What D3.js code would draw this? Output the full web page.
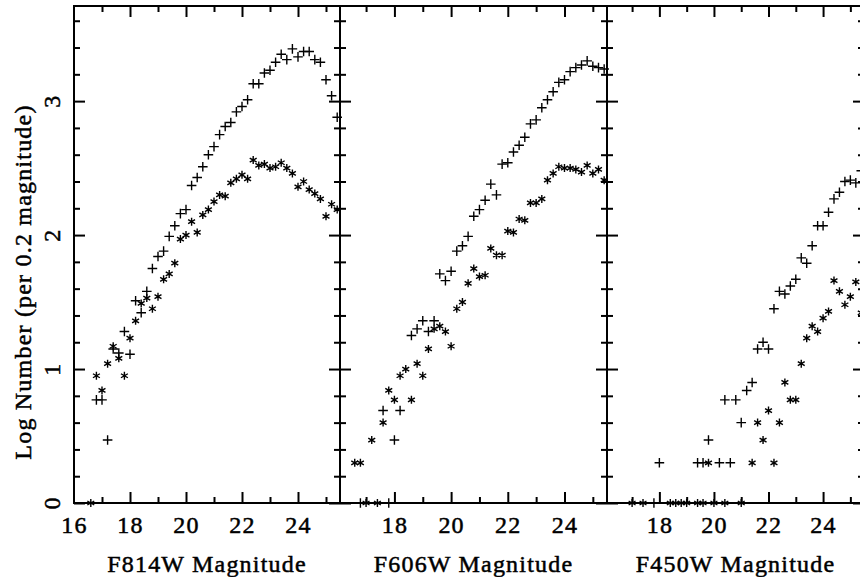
<!DOCTYPE html>
<html><head><meta charset="utf-8">
<script src="https://cdn.jsdelivr.net/npm/d3@7"></script>
<style>body{margin:0;background:#fff}svg{display:block}</style>
</head><body><svg id="c" width="860" height="577"></svg>
<script>
// ---- data (magnitude bin, log number per 0.2 mag) ----
const filters = ["F814W", "F606W", "F450W"];
const xTickLabelsFirst = [16, 18, 20, 22, 24];
const xTickLabelsOther = [18, 20, 22, 24];
const yTickLabels = [0, 1, 2, 3];
const yTitle = "Log Number (per 0.2 magnitude)";

const f814wPlus = [[16.8,0.77],[17.0,0.77],[17.2,0.47],[17.4,1.15],[17.6,1.12],[17.8,1.28],[18.0,1.11],[18.2,1.51],[18.4,1.42],[18.6,1.58],[18.8,1.75],[19.0,1.84],[19.2,1.88],[19.4,1.99],[19.6,2.07],[19.8,2.16],[20.0,2.19],[20.2,2.37],[20.4,2.43],[20.6,2.51],[20.8,2.60],[21.0,2.66],[21.2,2.75],[21.4,2.81],[21.6,2.84],[21.8,2.92],[22.0,2.96],[22.2,3.01],[22.4,3.13],[22.6,3.13],[22.8,3.21],[23.0,3.23],[23.2,3.29],[23.4,3.35],[23.6,3.31],[23.8,3.39],[24.0,3.33],[24.2,3.37],[24.4,3.37],[24.6,3.31],[24.8,3.29],[25.0,3.16],[25.2,3.04],[25.4,2.88]];
const f814wStar = [[16.6,0],[16.8,0.95],[17.0,0.84],[17.2,1.04],[17.4,1.17],[17.6,1.08],[17.8,0.95],[18.0,1.23],[18.2,1.36],[18.4,1.49],[18.6,1.53],[18.8,1.45],[19.0,1.54],[19.2,1.67],[19.4,1.71],[19.6,1.79],[19.8,1.97],[20.0,2.00],[20.2,2.10],[20.4,2.02],[20.6,2.15],[20.8,2.19],[21.0,2.25],[21.2,2.30],[21.4,2.29],[21.6,2.39],[21.8,2.42],[22.0,2.45],[22.2,2.42],[22.4,2.56],[22.6,2.52],[22.8,2.53],[23.0,2.50],[23.2,2.51],[23.4,2.54],[23.6,2.50],[23.8,2.46],[24.0,2.36],[24.2,2.40],[24.4,2.34],[24.6,2.31],[24.8,2.27],[25.0,2.14],[25.2,2.23],[25.4,2.19]];

const f606wPlus = [[16.8,0],[17.6,0.69],[17.8,0],[18.0,0.47],[18.2,0.69],[18.6,1.25],[18.8,1.30],[19.0,1.36],[19.2,1.28],[19.4,1.36],[19.6,1.71],[19.8,1.66],[20.0,1.73],[20.2,1.88],[20.4,1.92],[20.6,1.99],[20.8,2.14],[21.0,2.19],[21.2,2.26],[21.4,2.38],[21.6,2.30],[21.8,2.53],[22.0,2.54],[22.2,2.62],[22.4,2.67],[22.6,2.73],[22.8,2.83],[23.0,2.86],[23.2,2.95],[23.4,3.01],[23.6,3.07],[23.8,3.14],[24.0,3.16],[24.2,3.22],[24.4,3.25],[24.6,3.27],[24.8,3.30],[25.0,3.26],[25.2,3.25],[25.4,3.24]];
const f606wStar = [[16.6,0.30],[16.8,0.30],[17.0,0],[17.2,0.47],[17.4,0],[17.6,0.60],[17.8,0.84],[18.0,0.77],[18.2,0.95],[18.4,1.00],[18.6,0.77],[18.8,1.04],[19.0,0.95],[19.2,1.15],[19.4,1.30],[19.6,1.32],[19.8,1.28],[20.0,1.17],[20.2,1.45],[20.4,1.50],[20.6,1.64],[20.8,1.75],[21.0,1.69],[21.2,1.70],[21.4,1.90],[21.6,1.85],[21.8,1.85],[22.0,2.03],[22.2,2.02],[22.4,2.12],[22.6,2.11],[22.8,2.24],[23.0,2.24],[23.2,2.27],[23.4,2.41],[23.6,2.46],[23.8,2.51],[24.0,2.50],[24.2,2.50],[24.4,2.49],[24.6,2.47],[24.8,2.52],[25.0,2.46],[25.2,2.49],[25.4,2.41]];

const f450wPlus = [[17.8,0],[18.0,0.30],[19.4,0.30],[19.6,0.30],[19.8,0.47],[20.2,0.30],[20.4,0.77],[20.6,0.30],[20.8,0.77],[21.0,0.60],[21.2,0.84],[21.4,0.90],[21.6,1.15],[21.8,1.20],[22.0,1.15],[22.2,1.45],[22.4,1.58],[22.6,1.56],[22.8,1.62],[23.0,1.67],[23.2,1.83],[23.4,1.79],[23.6,1.92],[23.8,2.07],[24.0,2.07],[24.2,2.17],[24.4,2.27],[24.6,2.32],[24.8,2.40],[25.0,2.41],[25.2,2.39],[25.4,2.48]];
const f450wStar = [[17.0,0],[17.4,0],[18.4,0],[18.6,0],[18.8,0],[19.0,0],[19.4,0],[19.6,0],[19.8,0.30],[20.0,0],[20.4,0],[21.0,0],[21.4,0.30],[21.6,0.60],[21.8,0.47],[22.0,0.69],[22.2,0.30],[22.4,0.60],[22.6,0.90],[22.8,0.77],[23.0,0.77],[23.2,1.04],[23.4,1.23],[23.6,1.32],[23.8,1.28],[24.0,1.38],[24.2,1.43],[24.4,1.66],[24.6,1.58],[24.8,1.48],[25.0,1.54],[25.2,1.65],[25.4,1.42]];

// ---- layout ----
const plotTop = 6, plotBottom = 503;
const panels = [
  {name: filters[0], x0: 74,  x1: 340, dom: [16, 25.5],    labels: xTickLabelsFirst, plus: f814wPlus, star: f814wStar},
  {name: filters[1], x0: 340, x1: 607, dom: [16.08, 25.5], labels: xTickLabelsOther, plus: f606wPlus, star: f606wStar},
  {name: filters[2], x0: 607, x1: 864, dom: [16.08, 25.5], labels: xTickLabelsOther, plus: f450wPlus, star: f450wStar}
];
const y = d3.scaleLinear().domain([0, 3.71]).range([plotBottom, plotTop]);
const svg = d3.select("#c");
const FONT = '"Liberation Serif", "Times New Roman", serif';
const FS = 24;

const yMajor = [0, 1, 2, 3];
const yMinor = d3.range(0, 19).filter(i => i % 5 !== 0).map(i => +(i * 0.2).toFixed(1));

const plusPath = s => `M${-s},0H${s}M0,${-s}V${s}`;
const starPath = s => {
  const c = Math.cos(Math.PI / 6) * s, d = Math.sin(Math.PI / 6) * s;
  return `M0,${-s}V${s}M${-c},${-d}L${c},${d}M${-c},${d}L${c},${-d}`;
};

function styleText(sel) {
  sel.attr("font-family", FONT).attr("font-size", FS).attr("fill", "#000")
     .attr("letter-spacing", "1.2px")
     .attr("stroke", "#000").attr("stroke-width", 0.5);
}
function styleAxis(g) {
  g.select(".domain").remove();
  g.selectAll("line").attr("stroke", "#000").attr("stroke-width", 2);
  g.selectAll("text").call(styleText);
}

panels.forEach(p => {
  const x = d3.scaleLinear().domain(p.dom).range([p.x0, p.x1]);
  const xMajor = d3.range(16, 26, 2).filter(v => v > p.dom[0] + 0.01 && v < p.dom[1]);
  const xMinor = d3.range(17, 26, 2).filter(v => v > p.dom[0] && v < p.dom[1]);
  const g = svg.append("g");

  g.append("g").attr("transform", `translate(0,${plotBottom})`)
    .call(d3.axisBottom(x).tickValues(xMajor).tickSize(-11).tickFormat(""))
    .call(styleAxis);
  g.append("g").attr("transform", `translate(0,${plotBottom})`)
    .call(d3.axisBottom(x).tickValues(xMinor).tickSize(-6).tickFormat(""))
    .call(styleAxis);
  g.append("g").attr("transform", `translate(0,${plotBottom})`)
    .call(d3.axisBottom(x).tickValues(p.labels).tickSize(0).tickPadding(13).tickFormat(d3.format("d")))
    .call(styleAxis);
  g.append("g").attr("transform", `translate(0,${plotTop})`)
    .call(d3.axisTop(x).tickValues(xMajor).tickSize(-11).tickFormat(""))
    .call(styleAxis);
  g.append("g").attr("transform", `translate(0,${plotTop})`)
    .call(d3.axisTop(x).tickValues(xMinor).tickSize(-6).tickFormat(""))
    .call(styleAxis);
  g.append("g").attr("transform", `translate(${p.x0},0)`)
    .call(d3.axisLeft(y).tickValues(yMajor).tickSize(-11).tickFormat(""))
    .call(styleAxis);
  g.append("g").attr("transform", `translate(${p.x0},0)`)
    .call(d3.axisLeft(y).tickValues(yMinor).tickSize(-6).tickFormat(""))
    .call(styleAxis);
  g.append("g").attr("transform", `translate(${p.x1},0)`)
    .call(d3.axisRight(y).tickValues(yMajor).tickSize(-11).tickFormat(""))
    .call(styleAxis);
  g.append("g").attr("transform", `translate(${p.x1},0)`)
    .call(d3.axisRight(y).tickValues(yMinor).tickSize(-6).tickFormat(""))
    .call(styleAxis);

  g.append("rect").attr("x", p.x0).attr("y", plotTop).attr("width", p.x1 - p.x0).attr("height", plotBottom - plotTop)
    .attr("fill", "none").attr("stroke", "#000").attr("stroke-width", 2);

  g.selectAll("path.plus").data(p.plus).join("path").attr("class", "plus")
    .attr("transform", d => `translate(${x(d[0])},${y(d[1])})`)
    .attr("d", plusPath(4.8)).attr("stroke", "#000").attr("stroke-width", 1.4).attr("fill", "none");
  g.selectAll("path.star").data(p.star).join("path").attr("class", "star")
    .attr("transform", d => `translate(${x(d[0])},${y(d[1])})`)
    .attr("d", starPath(4)).attr("stroke", "#000").attr("stroke-width", 1.4).attr("fill", "none");

  g.append("text").attr("x", (p.x0 + p.x1) / 2).attr("y", 572)
    .attr("text-anchor", "middle").call(styleText).text(`${p.name} Magnitude`);
});

svg.append("g").selectAll("text").data(yTickLabels).join("text")
  .attr("transform", d => `translate(52,${y(d)}) rotate(-90)`)
  .attr("text-anchor", "middle").attr("dy", "0.33em").call(styleText).text(d => d);

svg.append("text").attr("transform", `translate(23,282) rotate(-90)`)
  .attr("text-anchor", "middle").attr("dy", "0.33em").call(styleText).text(yTitle);
</script></body></html>
